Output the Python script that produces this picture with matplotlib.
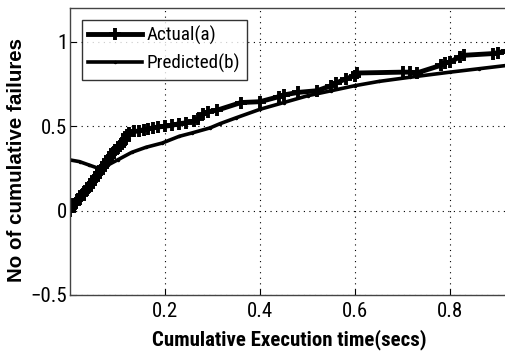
import matplotlib
matplotlib.use("Agg")
import matplotlib.pyplot as plt
from matplotlib import font_manager

# Cumulative failures (normalised) vs cumulative execution time
actual_t = [0.0, 0.005, 0.01, 0.015, 0.02, 0.025, 0.03, 0.035, 0.04, 0.045,
            0.05, 0.055, 0.06, 0.065, 0.07, 0.075, 0.08, 0.085, 0.09, 0.095,
            0.10, 0.105, 0.11, 0.115, 0.12, 0.125, 0.135, 0.145, 0.155, 0.165,
            0.175, 0.185, 0.20, 0.215, 0.23, 0.245, 0.26, 0.27, 0.28, 0.29,
            0.31, 0.36, 0.40, 0.44, 0.45, 0.48, 0.52, 0.55, 0.56, 0.58,
            0.60, 0.605, 0.70, 0.715, 0.73, 0.78, 0.79, 0.80, 0.82, 0.83,
            0.89, 0.90, 0.92]
actual_f = [0.0, 0.02, 0.04, 0.06, 0.07, 0.09, 0.11, 0.12, 0.14, 0.16,
            0.18, 0.20, 0.22, 0.24, 0.26, 0.28, 0.30, 0.32, 0.34, 0.36,
            0.37, 0.38, 0.40, 0.42, 0.45, 0.46, 0.47, 0.47, 0.48, 0.485,
            0.49, 0.495, 0.50, 0.505, 0.515, 0.52, 0.53, 0.545, 0.57, 0.585,
            0.595, 0.64, 0.645, 0.675, 0.685, 0.70, 0.71, 0.74, 0.755, 0.78,
            0.80, 0.815, 0.82, 0.82, 0.815, 0.86, 0.875, 0.88, 0.91, 0.92,
            0.93, 0.935, 0.945]

pred_t = [0.0, 0.02, 0.04, 0.06, 0.08, 0.10, 0.13, 0.16, 0.194, 0.23,
          0.257, 0.295, 0.316, 0.35, 0.40, 0.45, 0.50, 0.55, 0.60, 0.65,
          0.716, 0.80, 0.86, 0.92]
pred_f = [0.30, 0.29, 0.27, 0.25, 0.27, 0.30, 0.345, 0.375, 0.40, 0.44,
          0.46, 0.49, 0.515, 0.55, 0.60, 0.64, 0.68, 0.71, 0.74, 0.765,
          0.79, 0.82, 0.84, 0.86]

x_ticks = [0.2, 0.4, 0.6, 0.8]
y_ticks = [-0.5, 0, 0.5, 1]
y_tick_labels = ["\u22120.5", "0", "0.5", "1"]

# Prefer a narrow sans face for horizontal text when one is available
fonts = font_manager.fontManager.ttflist
names = {f.name for f in fonts}
stretch = "normal"
narrow_family = None
for cand in ["Liberation Sans Narrow", "Arial Narrow", "Roboto Condensed",
             "Open Sans Condensed", "Noto Sans Condensed"]:
    if cand in names:
        narrow_family = cand
        break
if narrow_family is None:
    for f in fonts:
        if f.name in ("DejaVu Sans", "Noto Sans", "Open Sans") and \
                str(f.stretch) in ("condensed", "semi-condensed", "75", "87"):
            narrow_family = f.name
            stretch = f.stretch
            break

if narrow_family is not None:
    plt.rcParams["font.family"] = [narrow_family, "DejaVu Sans"]
    plt.rcParams["font.stretch"] = stretch
    tick_size, xlab_size, leg_size = 15, 15, 13.8
else:
    plt.rcParams["font.family"] = ["Liberation Sans", "DejaVu Sans"]
    tick_size, xlab_size, leg_size = 14, 12.8, 12.5

fig = plt.figure(figsize=(5.05, 3.52), dpi=100)
W, H = 505, 352
ax = fig.add_axes([70 / W, (H - 295) / H, 438 / W, 287 / H])

ax.plot(actual_t, actual_f, color="black", lw=3.5, marker="+", ms=9,
        mew=2.8, label="Actual(a)")
ax.plot(pred_t, pred_f, color="black", lw=2.6, marker=".", ms=3,
        label="Predicted(b)")

ax.set_xlim(0, 0.922)
ax.set_ylim(-0.5, 1.2)
ax.set_xticks(x_ticks)
ax.set_xticklabels([f"{v:g}" for v in x_ticks])
ax.set_yticks(y_ticks)
ax.set_yticklabels(y_tick_labels)
ax.tick_params(direction="in", length=4, labelsize=tick_size, pad=2)
ax.tick_params(axis="x", pad=5)
ax.grid(True, color="black", linestyle=(0, (1, 4)), linewidth=0.8)

for s in ax.spines.values():
    s.set_color("#444444")
    s.set_linewidth(1.0)

ax.set_xlabel("Cumulative Execution time(secs)", fontsize=xlab_size,
              fontweight="bold", labelpad=6)
ax.set_ylabel("No of cumulative failures", fontsize=14.8, fontweight="bold",
              family=["Liberation Sans", "DejaVu Sans"], stretch="normal",
              labelpad=1)
ax.yaxis.set_label_coords(-0.1, 0.47)

leg = ax.legend(loc="upper left", fontsize=leg_size, frameon=True,
                fancybox=False, edgecolor="black", handlelength=2.8,
                borderaxespad=0.6, borderpad=0.35, labelspacing=0.45,
                handletextpad=0.25)
leg.get_frame().set_linewidth(1.0)

fig.savefig("out.png", dpi=100)
